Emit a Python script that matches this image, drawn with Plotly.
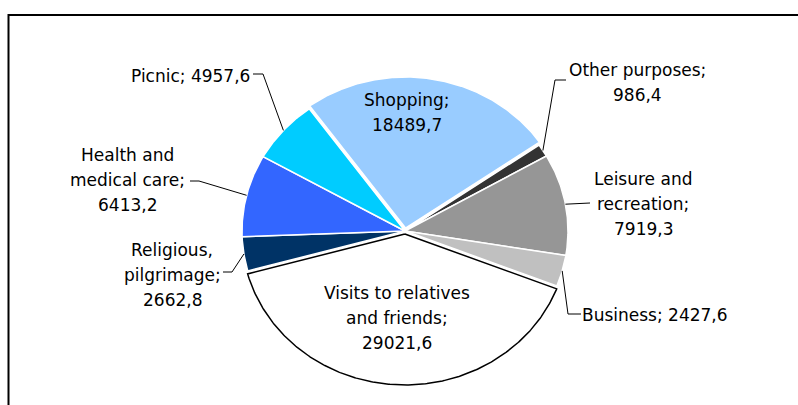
import textwrap
import numpy as np
import plotly.graph_objects as go

# Trip purposes and their totals
categories = [
    "Shopping",
    "Other purposes",
    "Leisure and recreation",
    "Business",
    "Visits to relatives and friends",
    "Religious, pilgrimage",
    "Health and medical care",
    "Picnic",
]
values = [18489.7, 986.4, 7919.3, 2427.6, 29021.6, 2662.8, 6413.2, 4957.6]
colors = ["#99CCFF", "#333333", "#969696", "#C0C0C0",
          "#FFFFFF", "#003366", "#3366FF", "#00CCFF"]

# Pie geometry (pixel space of the page)
W, H = 798, 405
CX, CY = 405, 231
RX, RY = 163, 151
START_DEG = -36.0  # clockwise from 12 o'clock
PULL = {"Shopping": 3, "Visits to relatives and friends": 3}

# Label placement: wrap width (chars), text centre, leader points from text to slice
LABELS = {
    "Shopping": dict(wrap=12, xy=(407, 112), leader=None),
    "Other purposes": dict(wrap=15, xy=(637, 82), leader=[(566, 80), (555, 80)]),
    "Leisure and recreation": dict(wrap=12, xy=(643, 204), leader=[(590, 203)]),
    "Business": dict(wrap=20, xy=(655, 315), leader=[(581, 314), (568, 314)]),
    "Visits to relatives and friends": dict(wrap=19, xy=(397, 318), leader=None),
    "Religious, pilgrimage": dict(wrap=12, xy=(172, 275), leader=[(223, 272), (232, 272)]),
    "Health and medical care": dict(wrap=13, xy=(127, 180), leader=[(190, 181), (199, 181)]),
    "Picnic": dict(wrap=20, xy=(190, 76), leader=[(253, 74), (263, 74)]),
}
LINE_PITCH = 25
FONT = dict(family="DejaVu Sans", size=17, color="#000000")


def fmt(v):
    return f"{v:.1f}".replace(".", ",")


total = float(sum(values))
fig = go.Figure()
shapes = []
annotations = []

cum = 0.0
slices = []
for cat, val, col in zip(categories, values, colors):
    a0 = np.radians(START_DEG + 360.0 * cum / total)
    cum += val
    a1 = np.radians(START_DEG + 360.0 * cum / total)
    mid = 0.5 * (a0 + a1)
    pull = PULL.get(cat, 0)
    ox = CX + pull * np.sin(mid)
    oy = CY - pull * np.cos(mid)
    th = np.linspace(a0, a1, max(10, int(np.degrees(a1 - a0) * 2)))
    xs = np.concatenate([[ox], ox + RX * np.sin(th), [ox]])
    ys = np.concatenate([[oy], oy - RY * np.cos(th), [oy]])
    anchor = (ox + RX * np.sin(mid), oy - RY * np.cos(mid))
    slices.append((cat, val, col, xs, ys, anchor))

# Draw the outlined (white) slice last so its black edge sits on top
order = [s for s in slices if s[2] != "#FFFFFF"] + [s for s in slices if s[2] == "#FFFFFF"]
for cat, val, col, xs, ys, anchor in order:
    edge = "#000000" if col == "#FFFFFF" else "#FFFFFF"
    fig.add_trace(go.Scatter(
        x=xs, y=ys, mode="lines", fill="toself", fillcolor=col,
        line=dict(color=edge, width=1.5), name=cat,
        hoverinfo="text", text=f"{cat}; {fmt(val)}", showlegend=False,
    ))

for cat, val, col, xs, ys, anchor in slices:
    spec = LABELS[cat]
    lines = textwrap.wrap(f"{cat}; {fmt(val)}", width=spec["wrap"])
    cx, cy = spec["xy"]
    n = len(lines)
    for i, ln in enumerate(lines):
        annotations.append(dict(
            x=cx, y=cy + (i - (n - 1) / 2) * LINE_PITCH, xref="x", yref="y",
            text=ln, showarrow=False, xanchor="center", yanchor="middle",
            font=FONT,
        ))
    if spec["leader"]:
        pts = list(spec["leader"]) + [anchor]
        path = "M " + " L ".join(f"{px:.1f},{py:.1f}" for px, py in pts)
        shapes.append(dict(type="path", path=path, xref="x", yref="y",
                           line=dict(color="#000000", width=1)))

# Chart frame
shapes.append(dict(type="rect", xref="x", yref="y", x0=8.5, y0=15, x1=W + 20, y1=H + 20,
                   line=dict(color="#000000", width=2), fillcolor="rgba(0,0,0,0)"))

fig.update_layout(
    width=W, height=H, autosize=False,
    margin=dict(l=0, r=0, t=0, b=0, pad=0),
    paper_bgcolor="#FFFFFF", plot_bgcolor="#FFFFFF",
    xaxis=dict(range=[0, W], visible=False, fixedrange=True),
    yaxis=dict(range=[H, 0], visible=False, fixedrange=True),
    shapes=shapes, annotations=annotations,
)

fig.write_html("out.html")
